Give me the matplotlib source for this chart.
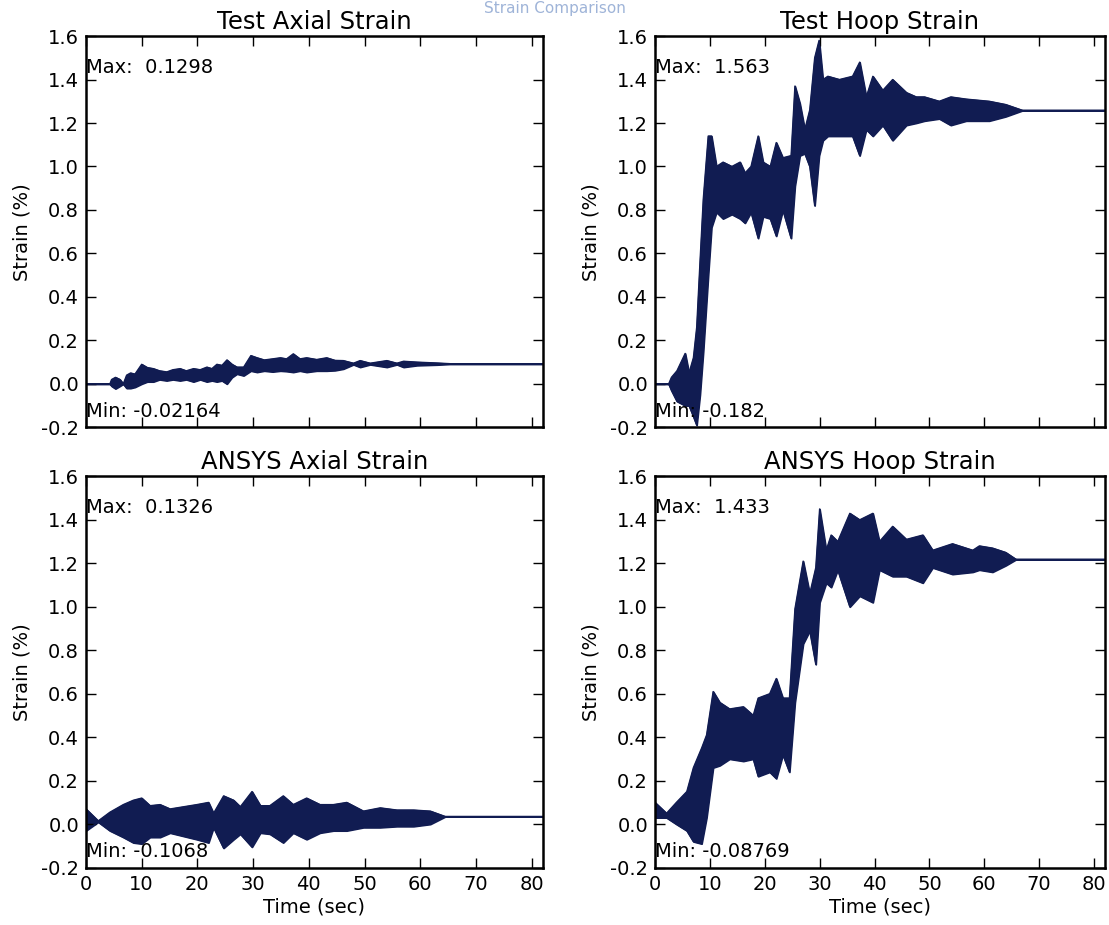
import matplotlib
matplotlib.use('Agg')
import matplotlib.pyplot as plt

# Envelope of each strain trace (upper / lower edge)
# Test axial strain
ta_t = [0, 4.3, 4.6, 5.3, 6.1, 6.7, 7.3, 8.0, 8.8, 10, 11.0, 12.1, 13.2, 14.5, 15.6, 16.9, 18.0, 19.3, 20.5, 21.7,
        22.6, 23.5, 24.4, 25.3, 26.2, 27.1, 28.3, 29.6, 30.7, 32.0, 33.5, 34.9, 36.0, 37.2, 38.4, 39.6, 41.4, 43.2,
        44.7, 46.2, 48, 49.2, 51, 54, 55.8, 57, 59.4, 63, 66, 82]
ta_hi = [0, 0, 0.02, 0.03, 0.02, 0.0, 0.04, 0.05, 0.045, 0.09, 0.075, 0.07, 0.06, 0.055, 0.065, 0.07, 0.06, 0.07, 0.065, 0.077,
         0.07, 0.09, 0.085, 0.11, 0.09, 0.077, 0.077, 0.13, 0.12, 0.11, 0.115, 0.12, 0.115, 0.138, 0.115, 0.12, 0.112, 0.12,
         0.108, 0.107, 0.095, 0.107, 0.095, 0.107, 0.095, 0.104, 0.1, 0.096, 0.092, 0.092]
ta_lo = [0, 0, -0.01, -0.022, -0.01, 0.0, -0.02, -0.02, -0.015, 0.0, 0.01, 0.01, 0.02, 0.015, 0.02, 0.015, 0.02, 0.01, 0.02, 0.01,
         0.015, 0.01, 0.015, 0.0, 0.03, 0.046, 0.038, 0.06, 0.054, 0.06, 0.056, 0.06, 0.058, 0.054, 0.06, 0.054, 0.06, 0.06,
         0.062, 0.069, 0.089, 0.077, 0.089, 0.077, 0.089, 0.077, 0.085, 0.088, 0.092, 0.092]

# Test hoop strain
th_t = [0, 2.5, 3.0, 4.0, 5.5, 6.2, 7.0, 7.6, 8.2, 8.8, 9.7, 10.3, 11.2, 12.4, 14.0, 15.5, 16.4, 17.5, 18.8, 19.7,
        21.0, 22.1, 23.3, 24.8, 25.5, 26.4, 27.3, 28.2, 29.1, 29.9, 30.6, 31.5, 33.6, 36.0, 37.3, 38.5, 39.7, 41.5,
        43.3, 45.8, 47.6, 49.1, 51.8, 53.9, 56.7, 60.9, 63.9, 67, 82]
th_hi = [0, 0, 0.03, 0.06, 0.14, 0.05, 0.12, 0.26, 0.56, 0.85, 1.14, 1.14, 1.0, 1.02, 1.0, 1.02, 0.97, 1.0, 1.14, 1.02,
         1.0, 1.11, 1.04, 1.05, 1.37, 1.29, 1.17, 1.26, 1.5, 1.58, 1.4, 1.415, 1.4, 1.415, 1.48, 1.32, 1.415, 1.35,
         1.4, 1.34, 1.32, 1.32, 1.30, 1.32, 1.31, 1.30, 1.285, 1.258, 1.258]
th_lo = [0, 0, -0.03, -0.08, -0.1, -0.1, -0.15, -0.19, -0.05, 0.15, 0.5, 0.72, 0.79, 0.76, 0.78, 0.76, 0.74, 0.79, 0.67, 0.77,
         0.76, 0.68, 0.8, 0.67, 0.91, 1.05, 1.06, 1.0, 0.82, 1.05, 1.12, 1.14, 1.14, 1.14, 1.05, 1.17, 1.14, 1.19,
         1.12, 1.19, 1.2, 1.21, 1.22, 1.19, 1.21, 1.21, 1.23, 1.258, 1.258]

# ANSYS axial strain
aa_t = [0, 2.2, 4.3, 6.7, 8.5, 10, 11.5, 13.3, 15.1, 17.5, 19.9, 22, 22.9, 24.7, 26.5, 27.7, 29.8, 31.3, 33, 35.4,
        37.2, 39.6, 42, 44.4, 46.8, 49.8, 52.8, 55.8, 58.8, 61.8, 64.5, 82]
aa_hi = [0.07, 0.015, 0.055, 0.09, 0.11, 0.12, 0.085, 0.09, 0.07, 0.08, 0.09, 0.1, 0.05, 0.13, 0.11, 0.08, 0.15, 0.085, 0.085, 0.13,
         0.09, 0.12, 0.09, 0.09, 0.1, 0.06, 0.075, 0.065, 0.065, 0.06, 0.035, 0.035]
aa_lo = [-0.03, 0.01, -0.03, -0.06, -0.085, -0.09, -0.06, -0.06, -0.04, -0.055, -0.07, -0.085, -0.015, -0.11, -0.07, -0.045, -0.105, -0.04, -0.045, -0.085,
         -0.04, -0.07, -0.04, -0.03, -0.03, -0.015, -0.015, -0.01, -0.01, 0.0, 0.035, 0.035]

# ANSYS hoop strain
ah_t = [0, 2.1, 3.9, 5.8, 7.0, 8.5, 9.4, 10.6, 11.8, 13.6, 16.1, 17.9, 18.8, 20.9, 22.1, 23.3, 24.5, 25.5, 27.0, 28.2,
        29.3, 30.0, 31.2, 32.1, 33.3, 35.5, 37.3, 39.7, 40.9, 43.3, 45.8, 48.8, 50.6, 54.2, 57.9, 59.1, 61.5, 63.9, 65.8, 82]
ah_hi = [0.1, 0.05, 0.1, 0.15, 0.26, 0.35, 0.41, 0.61, 0.56, 0.53, 0.54, 0.5, 0.58, 0.6, 0.67, 0.58, 0.58, 0.99, 1.21, 1.06,
         1.18, 1.45, 1.26, 1.33, 1.30, 1.43, 1.40, 1.43, 1.30, 1.37, 1.31, 1.33, 1.26, 1.29, 1.26, 1.28, 1.27, 1.25, 1.218, 1.218]
ah_lo = [0.03, 0.03, 0.0, -0.03, -0.08, -0.09, 0.03, 0.26, 0.27, 0.30, 0.29, 0.30, 0.22, 0.24, 0.21, 0.32, 0.24, 0.56, 0.83, 0.89,
         0.735, 1.02, 1.11, 1.09, 1.17, 1.0, 1.05, 1.02, 1.17, 1.14, 1.14, 1.11, 1.18, 1.15, 1.16, 1.17, 1.16, 1.19, 1.218, 1.218]

titles = ['Test Axial Strain', 'Test Hoop Strain', 'ANSYS Axial Strain', 'ANSYS Hoop Strain']
max_text = ['0.1298', '1.563', '0.1326', '1.433']
min_text = ['-0.02164', '-0.182', '-0.1068', '-0.08769']
y_ticks = [-0.2, 0.0, 0.2, 0.4, 0.6, 0.8, 1.0, 1.2, 1.4, 1.6]
x_ticks = [0, 10, 20, 30, 40, 50, 60, 70, 80]

plt.rcParams['axes.unicode_minus'] = False
plt.rcParams['font.family'] = ['DejaVu Sans']

fig = plt.figure(figsize=(11.09, 9.25), dpi=100)
fig.text(0.5, 0.999, 'Strain Comparison', ha='center', va='top', fontsize=11, color='#9fb4d8')

positions = [[0.0775, 0.538, 0.412, 0.423],
             [0.5906, 0.538, 0.4058, 0.423],
             [0.0775, 0.062, 0.412, 0.423],
             [0.5906, 0.062, 0.4058, 0.423]]
series = [(ta_t, ta_hi, ta_lo), (th_t, th_hi, th_lo), (aa_t, aa_hi, aa_lo), (ah_t, ah_hi, ah_lo)]
navy = '#111c52'

for i in range(4):
    ax = fig.add_axes(positions[i])
    t, hi, lo = series[i]
    ax.fill_between(t, lo, hi, color=navy, linewidth=1.2, edgecolor=navy)
    ax.plot(t, hi, color=navy, linewidth=1.0)
    ax.plot(t, lo, color=navy, linewidth=1.0)

    ax.set_xlim(0, 82)
    ax.set_ylim(-0.2, 1.6)
    ax.set_yticks(y_ticks)
    ax.set_xticks(x_ticks)
    ax.tick_params(direction='in', top=True, right=True, length=7, width=1, labelsize=14, pad=5)
    for s in ax.spines.values():
        s.set_linewidth(1.8)
    if i < 2:
        ax.set_xticklabels([])
    else:
        ax.set_xlabel('Time (sec)', fontsize=14, labelpad=3)
    ax.set_ylabel('Strain (%)', fontsize=14, labelpad=7)
    ax.set_title(titles[i], fontsize=17.5, pad=5)

    ax.text(0.0, 0.92, 'Max:  ' + max_text[i], transform=ax.transAxes, fontsize=14, va='center', ha='left')
    ax.text(0.0, 0.04, 'Min: ' + min_text[i], transform=ax.transAxes, fontsize=14, va='center', ha='left')

plt.savefig('out.png', dpi=100)
